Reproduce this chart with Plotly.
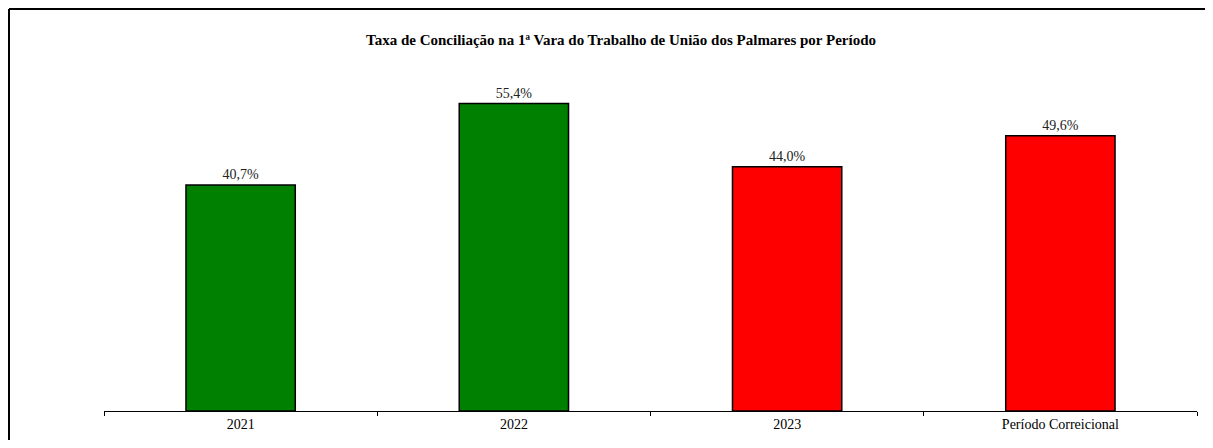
import plotly.graph_objects as go

periodos = ["2021", "2022", "2023", "Período Correicional"]
taxas = [40.7, 55.4, 44.0, 49.6]
cores = ["#008000", "#008000", "#FF0000", "#FF0000"]
rotulos = [f"{v:.1f}%".replace(".", ",") for v in taxas]

fig = go.Figure()
fig.add_trace(go.Bar(x=periodos, y=taxas,
                     marker=dict(color=cores, line=dict(color="black", width=1.5)),
                     text=rotulos, textposition="outside", cliponaxis=False,
                     textfont=dict(family="Liberation Serif", size=14, color="#222")))

# a página tem 8px de margem; a figura é reduzida para caber sem rolagem
fig.update_layout(
    width=1197, height=432,
    margin=dict(l=96, r=8, t=70, b=29),
    paper_bgcolor="white", plot_bgcolor="white",
    bargap=0.6, showlegend=False,
    font=dict(family="Liberation Serif", size=14, color="black"),
    title=dict(text="<b>Taxa de Conciliação na 1ª Vara do Trabalho de União dos Palmares por Período</b>",
               x=(621 - 8) / 1197, xanchor="center", y=1 - 32 / 432, yanchor="middle",
               font=dict(family="Liberation Serif", size=15, color="black")),
)
fig.update_xaxes(showline=True, linecolor="black", linewidth=1, ticks="outside",
                 ticklen=4, tickcolor="black", tickson="boundaries", showgrid=False)
fig.update_yaxes(range=[0, 60], visible=False)

# moldura do gráfico (só as bordas esquerda e superior aparecem)
x_borda = -95 / 1093
y_topo = 402 / 333
fig.add_shape(type="line", xref="paper", yref="paper",
              x0=x_borda, x1=x_borda, y0=-29 / 333, y1=y_topo,
              line=dict(color="black", width=2))
fig.add_shape(type="line", xref="paper", yref="paper",
              x0=x_borda, x1=1 + 8 / 1093, y0=y_topo, y1=y_topo,
              line=dict(color="black", width=2))

fig.write_html("out.html")
